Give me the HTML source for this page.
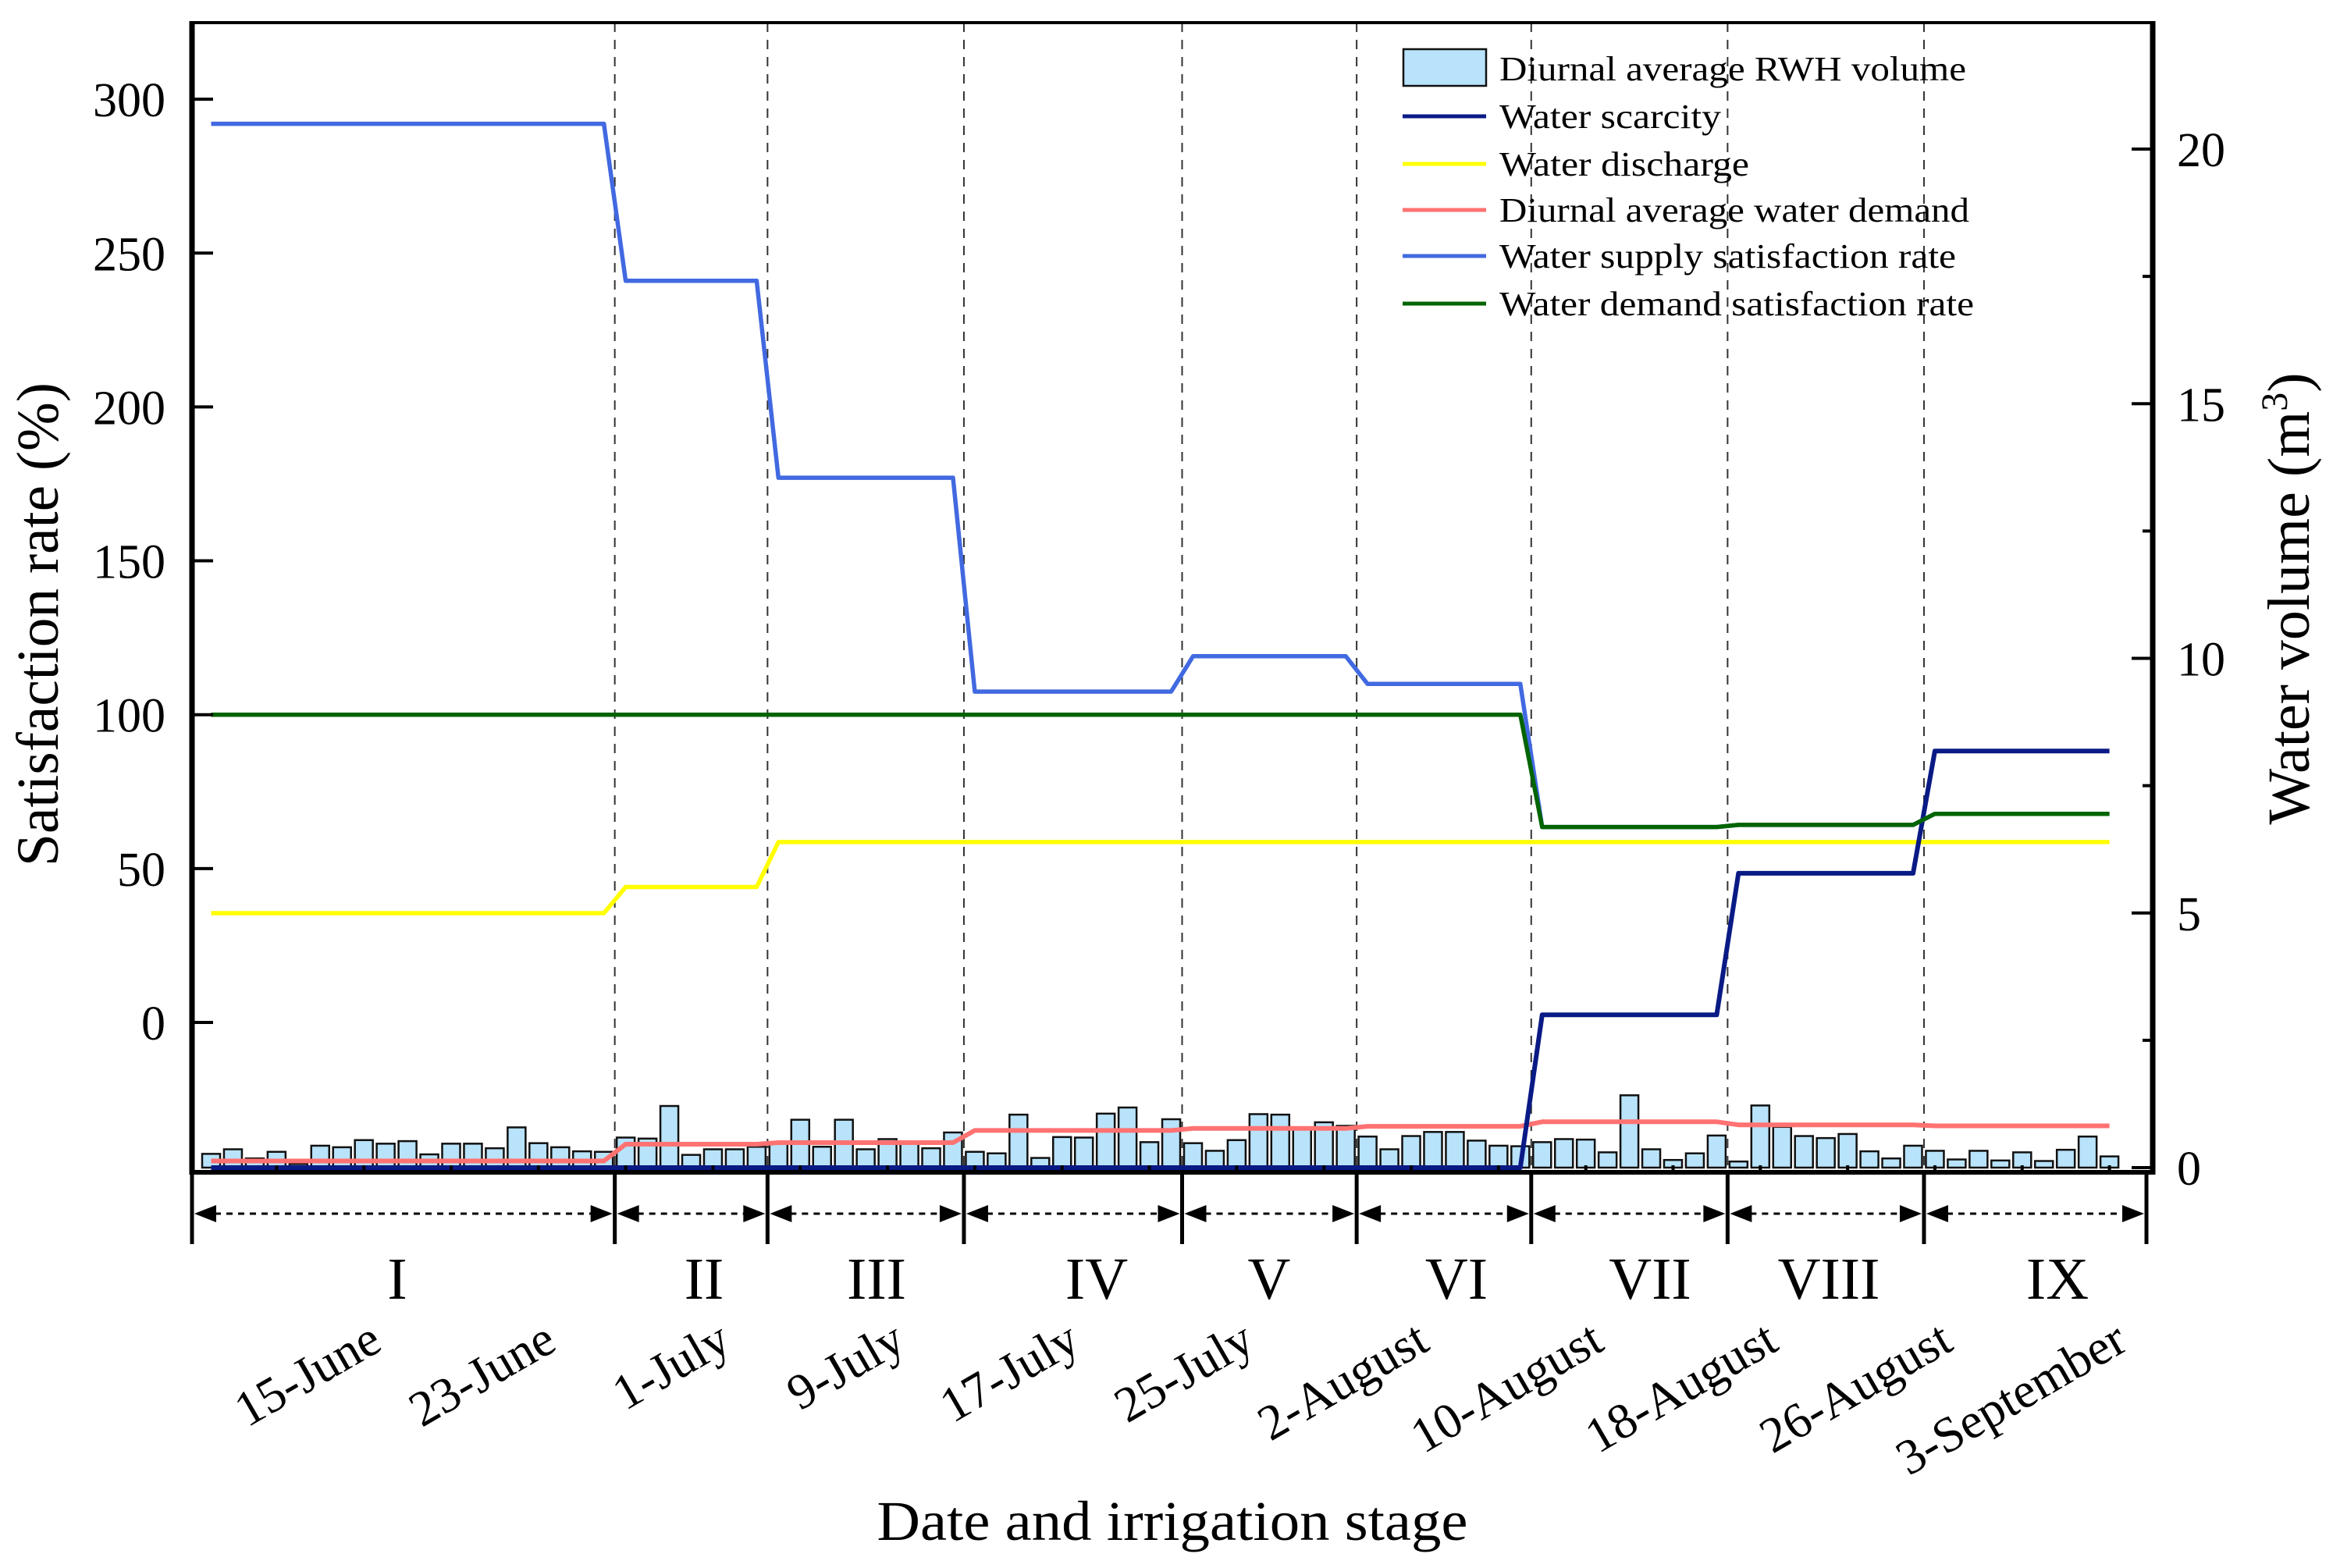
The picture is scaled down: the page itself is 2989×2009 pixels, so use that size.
<!DOCTYPE html>
<html><head><meta charset="utf-8">
<style>
html,body{margin:0;padding:0;background:#fff;}
svg{display:block;font-family:"Liberation Serif",serif;}
</style></head>
<body>
<svg id="chart" width="2989" height="2009" viewBox="0 0 2989 2009" xmlns="http://www.w3.org/2000/svg">
<rect x="0" y="0" width="2989" height="2009" fill="#fff"/>
</svg>
<script>
// ---- data ----
const rwhVolume = [0.27,0.36,0.18,0.31,0.07,0.43,0.40,0.54,0.47,0.52,0.26,0.47,0.47,0.38,0.79,0.48,0.40,0.32,0.31,
0.59,0.57,1.21,0.25,0.36,0.36,0.41,
0.47,0.94,0.41,0.94,0.36,0.56,0.47,0.38,0.69,
0.31,0.28,1.04,0.19,0.60,0.59,1.06,1.18,0.50,0.95,
0.48,0.33,0.54,1.05,1.04,0.78,0.89,0.82,
0.61,0.36,0.62,0.70,0.70,0.53,0.43,0.42,
0.50,0.56,0.55,0.30,1.42,0.36,0.15,0.28,0.63,
0.12,1.22,0.80,0.62,0.58,0.66,0.32,0.18,0.43,
0.33,0.16,0.33,0.14,0.30,0.13,0.35,0.61,0.22];
const stageNames = ["I","II","III","IV","V","VI","VII","VIII","IX"];
const stageStart = [0,19,26,35,45,53,61,70,79];
const stageEnd   = [18,25,34,44,52,60,69,78,87];
const supplyRate = [292,241,177,107.5,119,110,63.5,64.2,67.8];
const demandRate = [100,100,100,100,100,100,63.5,64.2,67.8];
const dischargeRate = [35.5,44,58.6,58.6,58.6,58.6,58.6,58.6,58.6];
const scarcityVol = [0,0,0,0,0,0,3.0,5.78,8.18];
const demandVol = [0.13,0.46,0.49,0.73,0.77,0.81,0.90,0.84,0.82];
const leftTicks = [0,50,100,150,200,250,300];
const rightTicks = [0,5,10,15,20];
const dateLabels = ["15-June","23-June","1-July","9-July","17-July","25-July","2-August","10-August","18-August","26-August","3-September"];
const dateDays = [7,15,23,31,39,47,55,63,71,79,87];

// ---- scales ----
const L=246, R=2758, T=29, B=1502;
function xs(d){return 270.5 + 27.955*d;}
function yl(v){return 1310 - v*3.943;}
function yr(v){return 1496 - v*65.25;}
const NS="http://www.w3.org/2000/svg";
const svg=document.getElementById('chart');
function mk(tag,attrs,parent){const e=document.createElementNS(NS,tag);for(const k in attrs)e.setAttribute(k,attrs[k]);(parent||svg).appendChild(e);return e;}
function perDay(stageVals){const out=[];for(let s=0;s<stageVals.length;s++){for(let d=stageStart[s];d<=stageEnd[s];d++)out[d]=stageVals[s];}return out;}

// stage boundary dashed lines
for(let s=1;s<stageStart.length;s++){
  const bx=xs(stageStart[s]-0.5);
  const ln=mk('line',{x1:bx,y1:T,x2:bx,y2:B,stroke:'#333','stroke-width':2,'stroke-dasharray':'12,10'});
  
  
}

// bars
const barG=mk('g',{});


rwhVolume.forEach((v,i)=>{
  const cx=xs(i), y=yr(v), h=yr(0)-y;
  const r=mk('rect',{x:cx-11.5,y:y,width:23,height:h,fill:'#b8e3fa',stroke:'#111','stroke-width':2.5},barG);
  
  
});

// lines
function drawLine(vals,yf,color,w,name){
  const pts=perDay(vals).map((v,d)=>xs(d).toFixed(1)+','+yf(v).toFixed(1)).join(' ');
  const p=mk('polyline',{points:pts,fill:'none',stroke:color,'stroke-width':w,'stroke-linejoin':'round'});
  
  
}
drawLine(dischargeRate,yl,'#ffff00',5.5,'water-discharge-line');
drawLine(demandVol,yr,'#ff7272',6,'water-demand-line');
drawLine(scarcityVol,yr,'#0a1a85',6,'water-scarcity-line');
drawLine(supplyRate,yl,'#4169e1',5.5,'supply-satisfaction-line');
drawLine(demandRate,yl,'#006400',5.5,'demand-satisfaction-line');

// frame
const frame=mk('g',{});


mk('line',{x1:L,y1:T,x2:R,y2:T,stroke:'#000','stroke-width':4},frame);
mk('line',{x1:L,y1:T-2,x2:L,y2:B+3,stroke:'#000','stroke-width':7},frame);
mk('line',{x1:R,y1:T-2,x2:R,y2:B+3,stroke:'#000','stroke-width':7},frame);
mk('line',{x1:L-3,y1:B,x2:R+3,y2:B,stroke:'#000','stroke-width':6},frame);

// left ticks
leftTicks.forEach(v=>{
  const y=yl(v);
  mk('line',{x1:L,y1:y,x2:L+27,y2:y,stroke:'#000','stroke-width':4});
  const t=mk('text',{x:212,y:y+22,'text-anchor':'end','font-size':62,fill:'#000'});
  t.textContent=v;
  
  
});
// right ticks
for(let v=0;v<=20;v+=2.5){
  const y=yr(v), major=(v%5===0);
  mk('line',{x1:R,y1:y,x2:R-(major?27:13),y2:y,stroke:'#000','stroke-width':4});
}
rightTicks.forEach(v=>{
  const t=mk('text',{x:2789,y:yr(v)+22,'text-anchor':'start','font-size':62,fill:'#000'});
  t.textContent=v;
  
  
});
// bottom ticks
for(let d=3;d<=87;d+=4){
  mk('line',{x1:xs(d),y1:B,x2:xs(d),y2:B-9,stroke:'#000','stroke-width':4});
}

// stage brackets
const brG=mk('g',{});


const edges=[L];
for(let s=1;s<stageStart.length;s++)edges.push(xs(stageStart[s]-0.5));
edges.push(2750);
edges.forEach(ex=>mk('line',{x1:ex,y1:B,x2:ex,y2:1594,stroke:'#000','stroke-width':5},brG));
const ay=1555;
for(let s=0;s<stageNames.length;s++){
  const a=edges[s]+3,b=edges[s+1]-3;
  mk('line',{x1:a+26,y1:ay,x2:b-26,y2:ay,stroke:'#000','stroke-width':3,'stroke-dasharray':'8,7'},brG);
  mk('polygon',{points:`${a},${ay} ${a+28},${ay-11} ${a+28},${ay+11}`,fill:'#000'},brG);
  mk('polygon',{points:`${b},${ay} ${b-28},${ay-11} ${b-28},${ay+11}`,fill:'#000'},brG);
}
const stageLabelX=[509,902,1123,1405,1626,1866,2114,2343,2636];
stageNames.forEach((n,i)=>{
  const t=mk('text',{x:stageLabelX[i],y:1664,'text-anchor':'middle','font-size':76,fill:'#000'});
  t.textContent=n;
  
  
});

// date labels
dateLabels.forEach((lab,i)=>{
  const x=xs(dateDays[i])+26, y=1728;
  const t=mk('text',{x:x,y:y,'text-anchor':'end','font-size':64,fill:'#000',transform:`rotate(-30 ${x} ${y})`});
  t.textContent=lab;
  
  
});

// axis titles
let t=mk('text',{x:1502,y:1973,'text-anchor':'middle','font-size':72,fill:'#000',textLength:757,lengthAdjust:'spacingAndGlyphs'});
t.textContent='Date and irrigation stage';


t=mk('text',{x:0,y:0,'text-anchor':'middle','font-size':76,fill:'#000',transform:'translate(74 800) rotate(-90)',textLength:620,lengthAdjust:'spacingAndGlyphs'});
t.textContent='Satisfaction rate (%)';


t=mk('text',{x:0,y:0,'text-anchor':'middle','font-size':76,fill:'#000',transform:'translate(2958 767) rotate(-90)'});


const ts1=mk('tspan',{},t); ts1.textContent='Water volume (m';
const ts2=mk('tspan',{dy:-28,'font-size':48},t); ts2.textContent='3';
const ts3=mk('tspan',{dy:28},t); ts3.textContent=')';

// legend
const legG=mk('g',{});


const legRows=[
 ['Diurnal average RWH volume','bar',null,598],
 ['Water scarcity','line','#0a1a85',284],
 ['Water discharge','line','#ffff00',320],
 ['Diurnal average water demand','line','#ff7272',602],
 ['Water supply satisfaction rate','line','#4169e1',585],
 ['Water demand satisfaction rate','line','#006400',608]];
const legY=[88,149,210,269,328,389];
legRows.forEach((r,i)=>{
  const y=legY[i];
  const g=mk('g',{},legG);
  
  
  if(r[1]==='bar') mk('rect',{x:1798,y:63,width:106,height:47,fill:'#b8e3fa',stroke:'#111','stroke-width':2.5},g);
  else mk('line',{x1:1797,y1:y,x2:1904,y2:y,stroke:r[2],'stroke-width':5},g);
  const tx=mk('text',{x:1921,y:y+15,'font-size':44,fill:'#000',textLength:r[3],lengthAdjust:'spacingAndGlyphs'},g);
  tx.textContent=r[0];
});
</script>
</body></html>
